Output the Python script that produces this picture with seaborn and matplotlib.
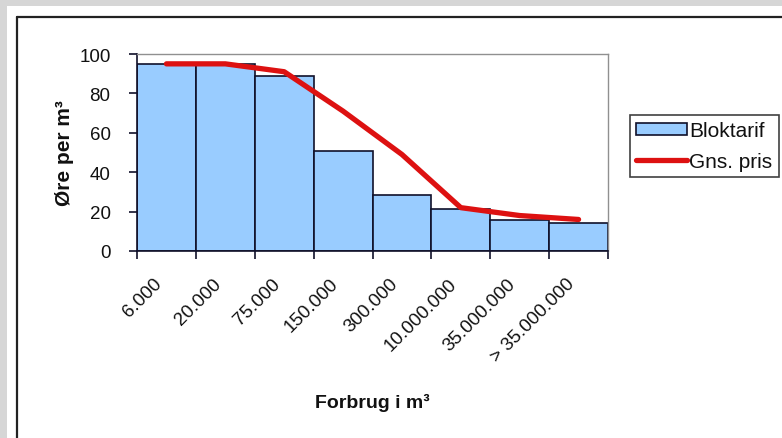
import numpy as np
import pandas as pd
import matplotlib.pyplot as plt
import matplotlib.patches as mpatches
import matplotlib.lines as mlines
import matplotlib.transforms as mtransforms
import seaborn as sns

# data
forbrug = ["6.000", "20.000", "75.000", "150.000", "300.000",
           "10.000.000", "35.000.000", "> 35.000.000"]
bloktarif = [95, 95, 89, 51, 28.5, 21.5, 15.5, 14]
gns_pris = [95, 95, 91, 71, 49, 22, 18, 16]

df = pd.DataFrame({"forbrug": forbrug, "bloktarif": bloktarif, "gns": gns_pris})
df["pos"] = np.arange(len(df))

sns.set_theme(style="white")
plt.rcParams["font.family"] = ["Liberation Sans", "DejaVu Sans"]

W, H = 782, 439
fig = plt.figure(figsize=(W / 100, H / 100), dpi=100)
fig.patch.set_facecolor("#d6d6d6")

def fx(px):
    return px / W

def fy(py):
    return 1 - py / H

# white chart area with dark frame
fig.patches.append(mpatches.Rectangle((fx(7), 0), 1, fy(7), transform=fig.transFigure,
                                      facecolor="white", edgecolor="none", zorder=-10))
fig.lines.append(mlines.Line2D([fx(17), fx(17)], [0, fy(18)], transform=fig.transFigure,
                               color="#222222", lw=1.6, zorder=-5))
fig.lines.append(mlines.Line2D([fx(17), 1], [fy(18), fy(18)], transform=fig.transFigure,
                               color="#222222", lw=1.6, zorder=-5))

ax = fig.add_axes([fx(137), fy(252), fx(608) - fx(137), fy(55) - fy(252)])
ax.set_facecolor("white")

sns.barplot(data=df, x="forbrug", y="bloktarif", width=1.0, color="#99ccff",
            edgecolor="#10102a", linewidth=1.2, saturation=1, ax=ax, label="Bloktarif")
sns.lineplot(data=df, x="pos", y="gns", color="#dd1111", lw=3.8, sort=False,
             ax=ax, label="Gns. pris")

ax.set_xlim(-0.5, len(df) - 0.5)
ax.set_ylim(0, 100)
ax.set_yticks(range(0, 101, 20))
ax.set_xticks(df["pos"])
ax.set_xticklabels(forbrug, rotation=45, ha="right", rotation_mode="anchor")
ax.set_xticks(np.arange(len(df) + 1) - 0.5, minor=True)
ax.tick_params(axis="x", which="major", length=0, pad=17, labelsize=13.5, labelcolor="#111111")
ax.tick_params(axis="x", which="minor", length=6, width=1.2, color="#10102a", direction="out")
ax.tick_params(axis="y", length=6, width=1.2, color="#10102a", direction="out",
               labelsize=13.5, pad=13, labelcolor="#111111")
ax.xaxis.set_ticks_position("bottom")
ax.yaxis.set_ticks_position("left")

# shift rotated labels a bit left, like the original
shift = mtransforms.ScaledTranslation(-13 / 100, 0, fig.dpi_scale_trans)
for lbl in ax.get_xticklabels():
    lbl.set_transform(lbl.get_transform() + shift)

for s in ["left", "bottom"]:
    ax.spines[s].set_color("#10102a")
    ax.spines[s].set_linewidth(1.2)
for s in ["top", "right"]:
    ax.spines[s].set_color("#909090")
    ax.spines[s].set_linewidth(1.0)

ax.set_xlabel("Forbrug i m³", fontsize=14, fontweight="bold", labelpad=20, color="#111111")
ax.set_ylabel("Øre per m³", fontsize=15, fontweight="bold", labelpad=4, color="#111111")

ax.get_legend().remove()
handles = [mpatches.Patch(facecolor="#99ccff", edgecolor="#10102a", lw=1.2),
           mlines.Line2D([], [], color="#dd1111", lw=3.8)]
leg = fig.legend(handles, ["Bloktarif", "Gns. pris"], loc="upper left",
                 bbox_to_anchor=(fx(630), fy(116)), bbox_transform=fig.transFigure,
                 frameon=True, fancybox=False, fontsize=15, handlelength=2.45,
                 handleheight=0.48, handletextpad=0.1, borderpad=0.3, labelspacing=0.55,
                 borderaxespad=0)
leg.get_frame().set_edgecolor("#111111")
leg.get_frame().set_linewidth(1.2)
for t in leg.get_texts():
    t.set_color("#111111")

fig.savefig("out.png", dpi=100, facecolor=fig.get_facecolor())
